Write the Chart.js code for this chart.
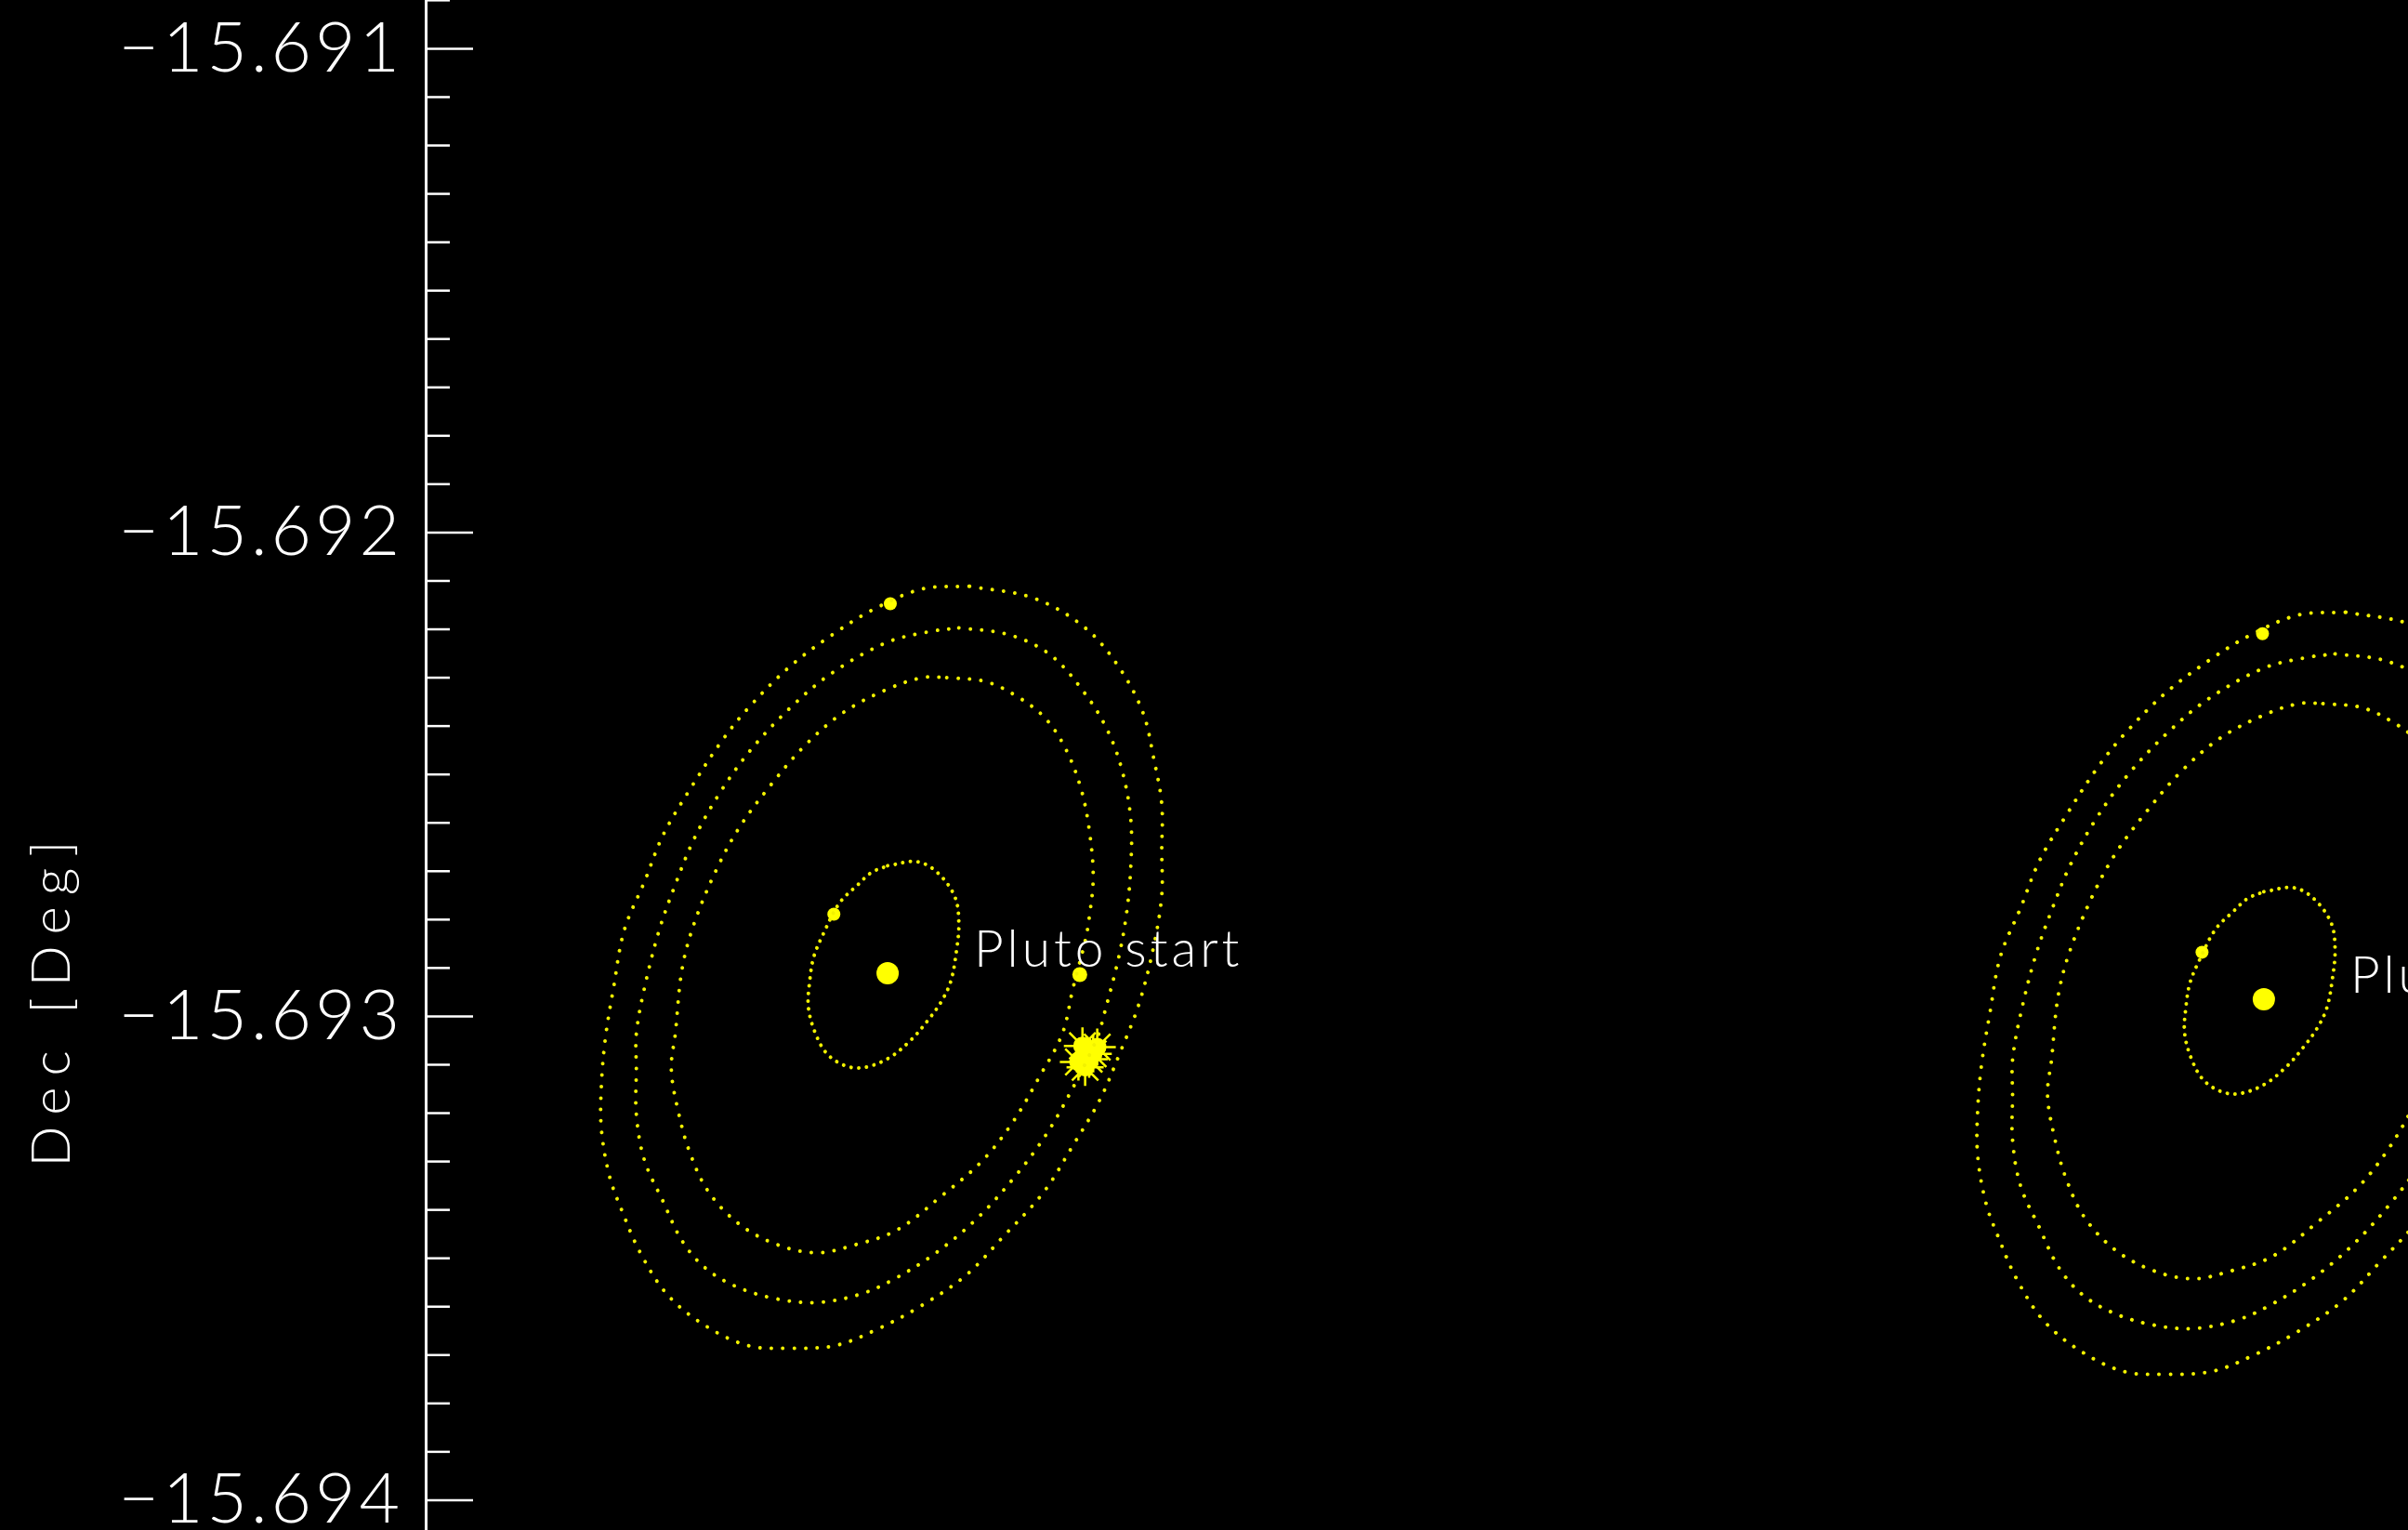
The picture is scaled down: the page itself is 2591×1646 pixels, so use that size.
<!DOCTYPE html>
<html>
<head>
<meta charset="utf-8">
<script src="https://cdn.jsdelivr.net/npm/chart.js@4.4.1/dist/chart.umd.min.js"></script>
<style>
  html, body { margin: 0; padding: 0; background: #000; overflow: hidden; }
  canvas { display: block; }
</style>
</head>
<body>
<canvas id="c" width="2591" height="1646"></canvas>
<script>
// ---- Pluto centre at the two epochs (degrees) ----
const epochLabels = ['Pluto start', 'Pluto end'];
const plutoRA  = [266.450955, 266.453800];
const plutoDec = [-15.6929109, -15.6929646];

// ---- Satellite orbit tracks: offsets from Pluto in arcseconds ----
const charonDRA  = [0.00, 0.22, 0.37, 0.50, 0.53, 0.51, 0.47, 0.40, 0.30, 0.17, 0.01, -0.17, -0.31, -0.45, -0.54, -0.59, -0.58, -0.55, -0.48, -0.36, -0.22, -0.12];
const charonDDec = [0.80, 0.83, 0.75, 0.57, 0.37, 0.15, -0.06, -0.21, -0.35, -0.50, -0.63, -0.70, -0.69, -0.60, -0.44, -0.25, -0.06, 0.12, 0.29, 0.52, 0.66, 0.75];

const nixDRA  = [0.44, 0.73, 0.98, 1.18, 1.33, 1.44, 1.50, 1.53, 1.50, 1.47, 1.38, 1.30, 1.13, 0.93, 0.70, 0.41, 0.07, -0.24, -0.53, -0.82, -1.10, -1.33, -1.47, -1.56, -1.61, -1.58, -1.53, -1.44, -1.27, -1.10, -0.87, -0.62, -0.33, -0.01, 0.26];
const nixDDec = [2.20, 2.17, 2.05, 1.89, 1.66, 1.37, 1.07, 0.72, 0.41, 0.24, -0.11, -0.45, -0.77, -1.11, -1.40, -1.65, -1.91, -2.02, -2.08, -2.02, -1.87, -1.63, -1.34, -1.02, -0.71, -0.45, 0.03, 0.37, 0.78, 1.09, 1.40, 1.69, 1.94, 2.11, 2.20];

const kerberosDRA  = [0.53, 0.90, 1.21, 1.47, 1.64, 1.75, 1.81, 1.81, 1.78, 1.72, 1.61, 1.56, 1.38, 1.18, 0.95, 0.67, 0.36, 0.04, -0.21, -0.53, -0.84, -1.13, -1.36, -1.53, -1.67, -1.81, -1.87, -1.87, -1.87, -1.81, -1.70, -1.58, -1.44, -1.25, -1.02, -0.73, -0.42, -0.01, 0.30];
const kerberosDDec = [2.57, 2.52, 2.37, 2.08, 1.80, 1.49, 1.14, 0.80, 0.46, 0.12, -0.31, -0.48, -0.85, -1.20, -1.51, -1.82, -2.08, -2.28, -2.39, -2.45, -2.42, -2.33, -2.19, -1.99, -1.70, -1.39, -1.05, -0.71, -0.45, -0.11, 0.32, 0.66, 1.00, 1.34, 1.66, 1.97, 2.23, 2.46, 2.54];

const hydraDRA  = [0.61, 1.09, 1.47, 1.72, 1.90, 1.98, 2.04, 2.04, 2.04, 1.98, 1.87, 1.73, 1.58, 1.38, 1.16, 0.86, 0.58, 0.24, -0.08, -0.39, -0.73, -1.04, -1.36, -1.64, -1.84, -1.98, -2.07, -2.13, -2.13, -2.10, -2.04, -1.96, -1.81, -1.67, -1.47, -1.24, -1.04, -0.73, -0.41, -0.10, 0.26];
const hydraDDec = [2.88, 2.79, 2.57, 2.28, 1.94, 1.60, 1.26, 0.91, 0.58, 0.20, -0.23, -0.59, -0.94, -1.28, -1.63, -1.96, -2.25, -2.48, -2.65, -2.77, -2.79, -2.77, -2.62, -2.39, -2.08, -1.76, -1.51, -1.16, -0.83, -0.48, -0.11, 0.32, 0.68, 1.03, 1.37, 1.72, 1.97, 2.28, 2.52, 2.71, 2.86];

// ---- Satellite positions at each epoch (arcsec from Pluto) ----
const charonPosDRA  = [-0.40, -0.46];
const charonPosDDec = [0.44, 0.35];
const hydraPosDRA   = [0.02, -0.01];
const hydraPosDDec  = [2.75, 2.72];
const nixPosDRA     = [1.43];
const nixPosDDec    = [-0.01];
// cluster of measured positions on the Kerberos track (start epoch)
const clusterDRA  = [1.45, 1.53, 1.47, 1.42, 1.56, 1.50];
const clusterDDec = [-0.54, -0.60, -0.70, -0.66, -0.55, -0.64];

// ---- Axis ----
const majorTicks = [-15.691, -15.692, -15.693, -15.694];
const minorStep = 0.0001;
const decTop = -15.6908993, decBottom = -15.6940616;
const raLeft = 266.4500, raRight = 266.4540980;

const tickValues = [];
for (let v = -15.6909; v >= decBottom - 1e-9; v -= minorStep) tickValues.push(+v.toFixed(4));

const YELLOW = '#ffff00';
const DOT = '#f2f200';

function track(e, dRA, dDec) {
  const pts = dRA.map((d, i) => ({ x: plutoRA[e] + d / 3600, y: plutoDec[e] + dDec[i] / 3600 }));
  pts.push(pts[0]);
  return pts;
}
function spots(e, dRA, dDec) {
  return dRA.map((d, i) => ({ x: plutoRA[e] + d / 3600, y: plutoDec[e] + dDec[i] / 3600 }));
}

const datasets = [];
for (let e = 0; e < plutoRA.length; e++) {
  [[charonDRA, charonDDec, 8.3], [nixDRA, nixDDec, 12.3], [kerberosDRA, kerberosDDec, 12.3], [hydraDRA, hydraDDec, 12.3]]
    .forEach(([a, b, gap]) => datasets.push({
      data: track(e, a, b), showLine: true, pointRadius: 0, borderColor: DOT,
      borderWidth: 4, borderDash: [0.001, gap], borderCapStyle: 'round', tension: 0.35
    }));
  datasets.push({ data: [{ x: plutoRA[e], y: plutoDec[e] }], pointRadius: 12, backgroundColor: YELLOW, borderWidth: 0 });
  datasets.push({ data: [spots(e, charonPosDRA, charonPosDDec)[e]], pointRadius: 7, backgroundColor: YELLOW, borderWidth: 0 });
  datasets.push({ data: [spots(e, hydraPosDRA, hydraPosDDec)[e]], pointRadius: 7, backgroundColor: YELLOW, borderWidth: 0 });
}
datasets.push({ data: spots(0, nixPosDRA, nixPosDDec), pointRadius: 8, backgroundColor: YELLOW, borderWidth: 0 });
datasets.push({ data: spots(0, clusterDRA, clusterDDec), pointRadius: 10, backgroundColor: YELLOW, borderWidth: 0 });
datasets.push({ data: spots(0, clusterDRA, clusterDDec), pointStyle: 'star', pointRadius: 20, borderColor: YELLOW, borderWidth: 2.5, backgroundColor: YELLOW });

const FONT = 'Lato';

// letter spacing for the tick labels drawn by the scale
const spacing = {
  id: 'spacing',
  beforeDraw(chart) { chart.ctx.letterSpacing = '4px'; },
  afterDraw(chart) { chart.ctx.letterSpacing = '0px'; }
};

// inward tick marks on the Dec axis
const inwardTicks = {
  id: 'inwardTicks',
  afterDraw(chart) {
    const s = chart.scales.y, ctx = chart.ctx, x0 = chart.chartArea.left;
    ctx.save();
    ctx.strokeStyle = '#ffffff';
    ctx.lineWidth = 2.5;
    s.ticks.forEach(t => {
      const py = s.getPixelForValue(t.value);
      const major = majorTicks.some(m => Math.abs(m - t.value) < 1e-7);
      ctx.beginPath();
      ctx.moveTo(x0, py);
      ctx.lineTo(x0 + (major ? 51 : 26), py);
      ctx.stroke();
    });
    ctx.restore();
  }
};

// axis title and epoch labels
const annotations = {
  id: 'annotations',
  afterDraw(chart) {
    const ctx = chart.ctx, xs = chart.scales.x, ys = chart.scales.y;
    ctx.save();
    ctx.fillStyle = '#ffffff';
    ctx.font = `300 58px ${FONT}`;
    ctx.letterSpacing = '12px';
    ctx.translate(56, 1074);
    ctx.rotate(-Math.PI / 2);
    ctx.textAlign = 'center';
    ctx.textBaseline = 'middle';
    ctx.fillText('Dec [Deg]', 0, 0);
    ctx.restore();

    ctx.save();
    ctx.fillStyle = '#ffffff';
    ctx.font = `300 55px ${FONT}`;
    ctx.letterSpacing = '4px';
    ctx.textAlign = 'left';
    ctx.textBaseline = 'alphabetic';
    epochLabels.forEach((txt, e) => {
      const px = xs.getPixelForValue(plutoRA[e]);
      const py = ys.getPixelForValue(plutoDec[e]);
      ctx.fillText(txt, px + 93, py - 7);
    });
    ctx.restore();
  }
};

new Chart(document.getElementById('c'), {
  type: 'scatter',
  data: { datasets },
  options: {
    responsive: false,
    animation: false,
    events: [],
    layout: { padding: 0, autoPadding: false },
    plugins: { legend: { display: false }, tooltip: { enabled: false } },
    scales: {
      x: { type: 'linear', display: false, min: raLeft, max: raRight },
      y: {
        type: 'linear',
        min: decBottom, max: decTop,
        afterFit(scale) {
          scale.width = 458;
          scale.paddingTop = 0;
          scale.paddingBottom = 0;
        },
        afterBuildTicks(scale) { scale.ticks = tickValues.map(v => ({ value: v })); },
        grid: { display: true, drawOnChartArea: false, drawTicks: false, color: 'rgba(0,0,0,0)' },
        border: { display: true, color: '#ffffff', width: 3 },
        ticks: {
          autoSkip: false,
          padding: 24,
          color: '#ffffff',
          font: { family: FONT, size: 75, weight: 300 },
          callback(v) {
            const m = majorTicks.find(t => Math.abs(t - v) < 1e-7);
            return m === undefined ? '' : '\u2212' + Math.abs(m).toFixed(3);
          }
        }
      }
    }
  },
  plugins: [spacing, inwardTicks, annotations]
});
</script>
</body>
</html>
